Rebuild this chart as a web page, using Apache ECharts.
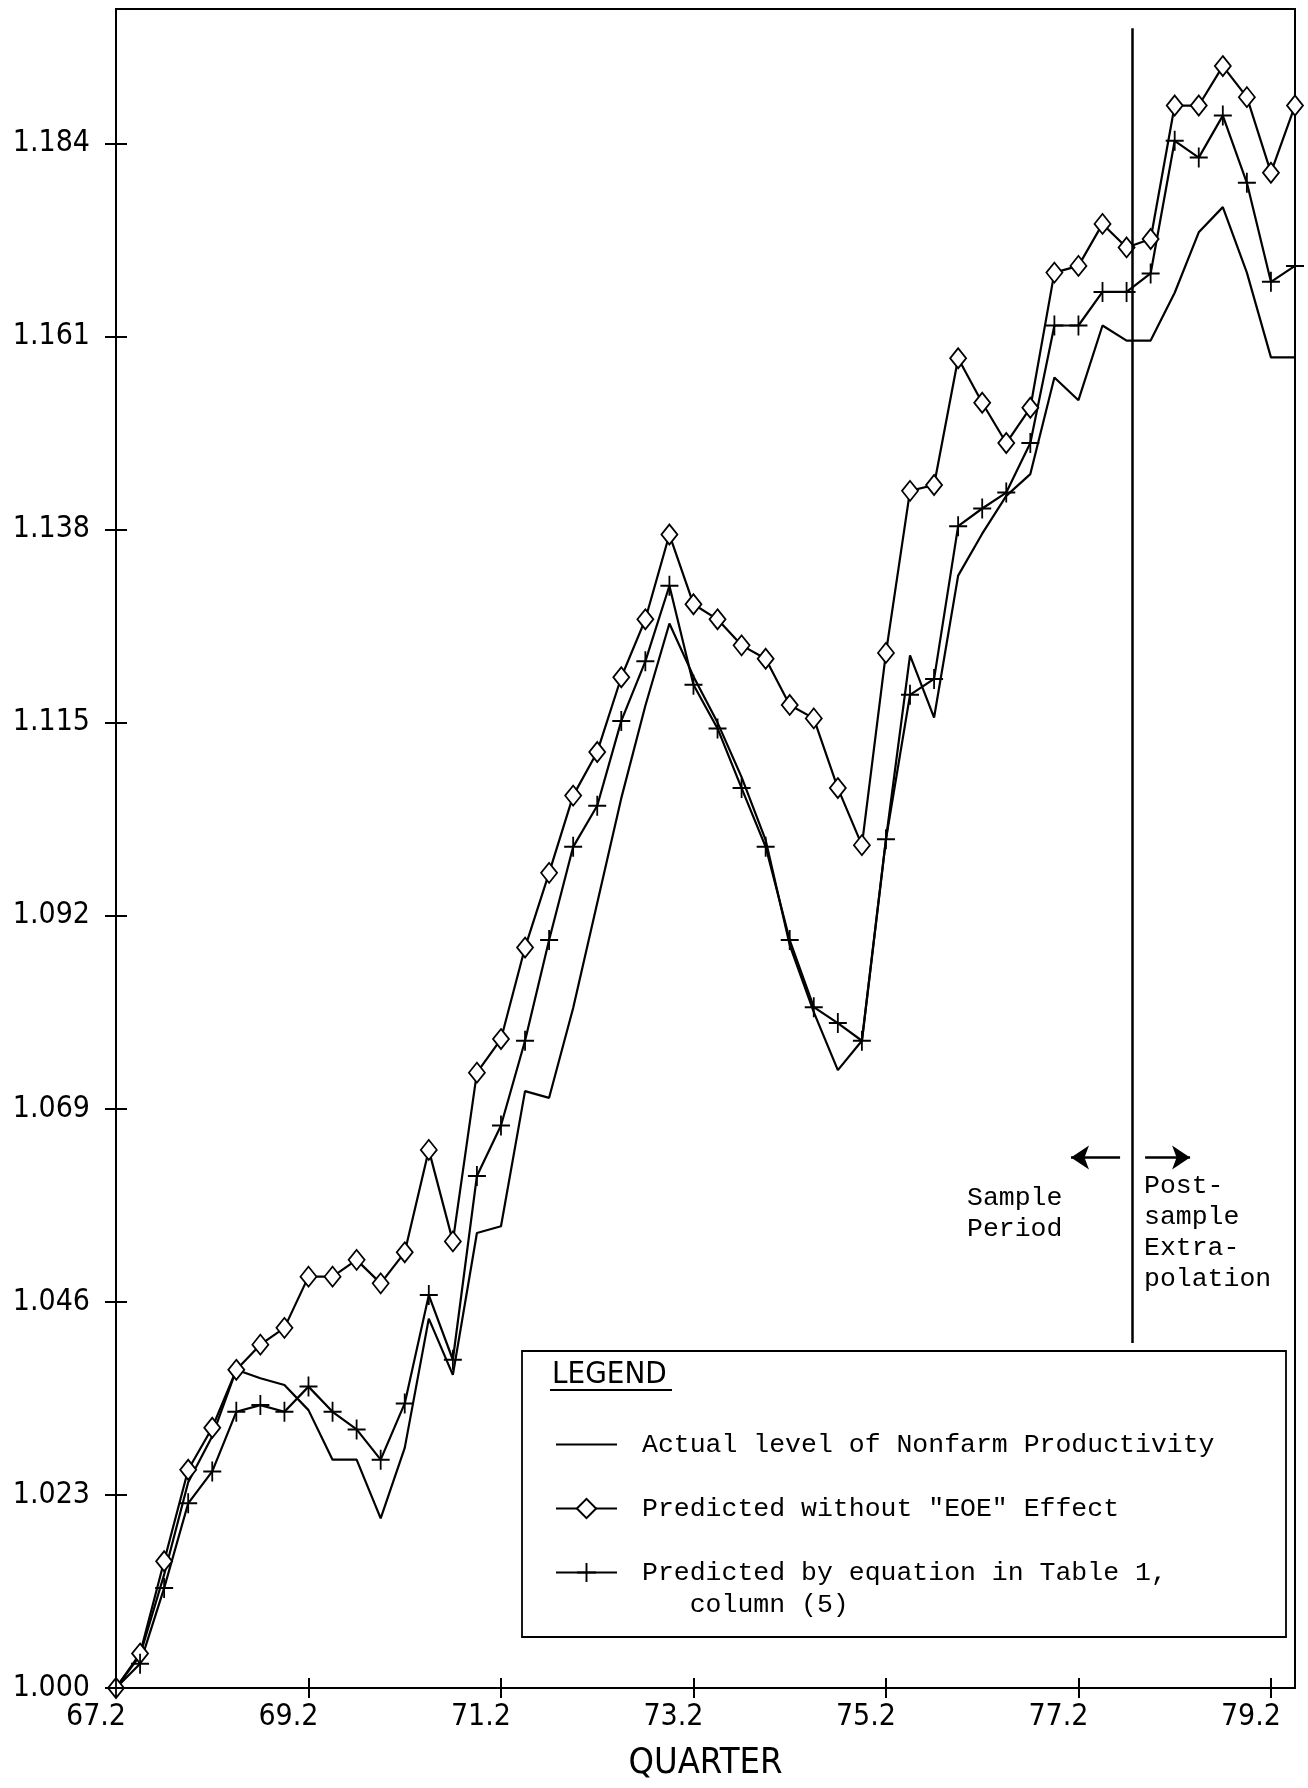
<!DOCTYPE html>
<html><head><meta charset="utf-8">
<script src="https://cdn.jsdelivr.net/npm/echarts@6/dist/echarts.min.js"></script>
<style>html,body{margin:0;padding:0;background:#fff}#c{width:1308px;height:1788px}</style>
</head><body><div id="c"></div>
<script>
// ---- data ----
const quarters = ['67.2','67.3','67.4',
  '68.1','68.2','68.3','68.4','69.1','69.2','69.3','69.4',
  '70.1','70.2','70.3','70.4','71.1','71.2','71.3','71.4',
  '72.1','72.2','72.3','72.4','73.1','73.2','73.3','73.4',
  '74.1','74.2','74.3','74.4','75.1','75.2','75.3','75.4',
  '76.1','76.2','76.3','76.4','77.1','77.2','77.3','77.4',
  '78.1','78.2','78.3','78.4','79.1','79.2','79.3'];

const actual = [1.0000,1.0039,1.0135,1.0245,1.0300,1.0379,1.0369,1.0361,1.0331,1.0272,
  1.0272,1.0202,1.0286,1.0440,1.0373,1.0542,1.0550,1.0711,1.0703,1.0810,
  1.0935,1.1060,1.1170,1.1268,1.1205,1.1150,1.1085,1.1010,1.0885,1.0805,
  1.0736,1.0771,1.1011,1.1230,1.1156,1.1325,1.1375,1.1420,1.1446,1.1561,
  1.1534,1.1623,1.1605,1.1605,1.1662,1.1734,1.1764,1.1686,1.1585,1.1585];

const noEOE = [1.0000,1.0041,1.0151,1.0260,1.0310,1.0379,1.0409,1.0429,1.0490,1.0490,
  1.0510,1.0482,1.0519,1.0641,1.0532,1.0733,1.0773,1.0882,1.0971,1.1063,
  1.1115,1.1204,1.1273,1.1374,1.1291,1.1273,1.1242,1.1226,1.1171,1.1155,
  1.1072,1.1004,1.1233,1.1426,1.1433,1.1584,1.1531,1.1483,1.1525,1.1686,
  1.1694,1.1744,1.1716,1.1726,1.1885,1.1885,1.1932,1.1895,1.1805,1.1885];

const table1 = [1.0000,1.0029,1.0119,1.0220,1.0258,1.0329,1.0337,1.0329,1.0359,1.0329,
  1.0308,1.0272,1.0339,1.0468,1.0391,1.0610,1.0670,1.0771,1.0891,1.1002,
  1.1051,1.1152,1.1223,1.1313,1.1195,1.1143,1.1072,1.1002,1.0891,1.0811,
  1.0792,1.0771,1.1011,1.1183,1.1202,1.1384,1.1405,1.1424,1.1483,1.1623,
  1.1623,1.1663,1.1663,1.1685,1.1843,1.1823,1.1873,1.1793,1.1675,1.1694];

const xTickLabels = ['67.2','69.2','71.2','73.2','75.2','77.2','79.2'];
const yTickLabels = ['1.000','1.023','1.046','1.069','1.092','1.115','1.138','1.161','1.184'];

const seriesNames = ['Actual level of Nonfarm Productivity',
  'Predicted without "EOE" Effect',
  'Predicted by equation in Table 1,\n   column (5)'];

// annotation: sample / post-sample divider (quarter index, value)
const dividerX = 42.25;
const dividerRange = [1.1977, 1.0411];
const arrowY = 1.0632;
const arrowLeft = [41.73, 39.69];
const arrowRight = [42.77, 44.64];

// ---- chart ----
const plotFont = "'DejaVu Sans Condensed', 'Liberation Sans Narrow', 'DejaVu Sans', sans-serif";
const monoFont = "'Courier New', 'Liberation Mono', monospace";
const xTickPos = xTickLabels.map(l => quarters.indexOf(l));
const yTickVals = yTickLabels.map(Number);
const pairs = arr => arr.map((v, i) => [i, v]);

const chart = echarts.init(document.getElementById('c'), null, {renderer: 'canvas'});
const blackLine = {color: '#000', width: 2};

chart.setOption({
  animation: false,
  backgroundColor: '#fff',
  grid: {left: 116, right: 13, top: 9, bottom: 100, show: true, borderColor: '#000', borderWidth: 2,
         containLabel: false, outerBoundsMode: 'none'},
  xAxis: [{
    type: 'value', min: 0, max: 49, position: 'bottom',
    axisLine: {show: true, onZero: false, lineStyle: blackLine},
    axisTick: {show: true, inside: false, length: 10, customValues: xTickPos, lineStyle: blackLine},
    axisLabel: {show: true, customValues: xTickPos, formatter: v => quarters[Math.round(v)],
      margin: 14, padding: [0, 40, 0, 0], fontSize: 30, fontFamily: plotFont, color: '#000'},
    splitLine: {show: false},
    name: 'QUARTER', nameLocation: 'middle', nameGap: 58,
    nameTextStyle: {fontSize: 36, fontFamily: plotFont, color: '#000'}
  }, {
    type: 'value', min: 0, max: 49, position: 'bottom',
    axisLine: {show: false},
    axisTick: {show: true, inside: true, length: 10, customValues: xTickPos, lineStyle: blackLine},
    axisLabel: {show: false}, splitLine: {show: false}
  }],
  yAxis: [{
    type: 'value', min: 1.0, max: 1.2, position: 'left',
    axisLine: {show: true, onZero: false, lineStyle: blackLine},
    axisTick: {show: true, inside: false, length: 11, customValues: yTickVals, lineStyle: blackLine},
    axisLabel: {show: true, customValues: yTickVals,
      formatter: v => { const l = yTickLabels.find(t => Math.abs(Number(t) - v) < 1e-9); return l || v.toFixed(3); },
      margin: 26, fontSize: 30, fontFamily: plotFont, color: '#000'},
    splitLine: {show: false}
  }, {
    type: 'value', min: 1.0, max: 1.2, position: 'left',
    axisLine: {show: false},
    axisTick: {show: true, inside: true, length: 11, customValues: yTickVals, lineStyle: blackLine},
    axisLabel: {show: false}, splitLine: {show: false}
  }],
  legend: {
    orient: 'vertical', left: 555, top: 1431, padding: 0, itemGap: 37,
    itemWidth: 61, itemHeight: 24, selectedMode: false,
    data: [{name: seriesNames[0], itemStyle: {opacity: 0}}, {name: seriesNames[1]}, {name: seriesNames[2]}],
    formatter: name => {
      const p = name.split('\n');
      return '{a|' + p[0] + '}' + (p[1] ? '\n{b|' + p[1] + '}' : '');
    },
    textStyle: {
      color: '#000', fontFamily: monoFont, fontSize: 26.5,
      rich: {
        a: {lineHeight: 64, padding: [0, 0, 0, 20], fontFamily: monoFont, fontSize: 26.5, color: '#000'},
        b: {lineHeight: 0.01, padding: [0, 0, 0, 20], fontFamily: monoFont, fontSize: 26.5, color: '#000'}
      }
    }
  },
  series: [{
    name: seriesNames[0], type: 'line', data: pairs(actual),
    symbol: 'none', lineStyle: {color: '#000', width: 2.2}, itemStyle: {color: '#000'}, z: 2,
    markLine: {
      silent: true, symbol: ['none', 'arrow'], symbolSize: 18, animation: false,
      label: {show: false}, emphasis: {disabled: true},
      lineStyle: {color: '#000', width: 2.5, type: 'solid'},
      data: [
        [{coord: [dividerX, dividerRange[0]], symbol: 'none'}, {coord: [dividerX, dividerRange[1]], symbol: 'none'}],
        [{coord: [arrowLeft[0], arrowY]}, {coord: [arrowLeft[1], arrowY]}],
        [{coord: [arrowRight[0], arrowY]}, {coord: [arrowRight[1], arrowY]}]
      ]
    }
  }, {
    name: seriesNames[1], type: 'line', data: pairs(noEOE),
    symbol: 'diamond', symbolSize: [16, 20],
    itemStyle: {color: '#fff', borderColor: '#000', borderWidth: 1.8},
    lineStyle: {color: '#000', width: 2.2}, z: 3
  }, {
    name: seriesNames[2], type: 'line', data: pairs(table1),
    symbol: 'path://M-1,-10h2v20h-2z M-10,-1h20v2h-20z', symbolSize: [18, 20],
    itemStyle: {color: '#000'},
    lineStyle: {color: '#000', width: 2.2}, z: 3
  }],
  graphic: [
    {type: 'rect', silent: true, shape: {x: 522, y: 1351, width: 764, height: 286},
     style: {fill: 'none', stroke: '#000', lineWidth: 1.8}},
    {type: 'text', silent: true, x: 552, y: 1375,
     style: {text: 'LEGEND', fontSize: 31, fontFamily: plotFont, fill: '#000', verticalAlign: 'middle'}},
    {type: 'line', silent: true, shape: {x1: 550, y1: 1390, x2: 672, y2: 1390},
     style: {stroke: '#000', lineWidth: 2}},
    {type: 'text', silent: true, x: 967, y: 1183,
     style: {text: 'Sample\nPeriod', fontSize: 26.5, fontFamily: monoFont, lineHeight: 30.5, fill: '#000', verticalAlign: 'top'}},
    {type: 'text', silent: true, x: 1144, y: 1170,
     style: {text: 'Post-\nsample\nExtra-\npolation', fontSize: 26.5, fontFamily: monoFont, lineHeight: 31, fill: '#000', verticalAlign: 'top'}}
  ]
});
</script></body></html>
